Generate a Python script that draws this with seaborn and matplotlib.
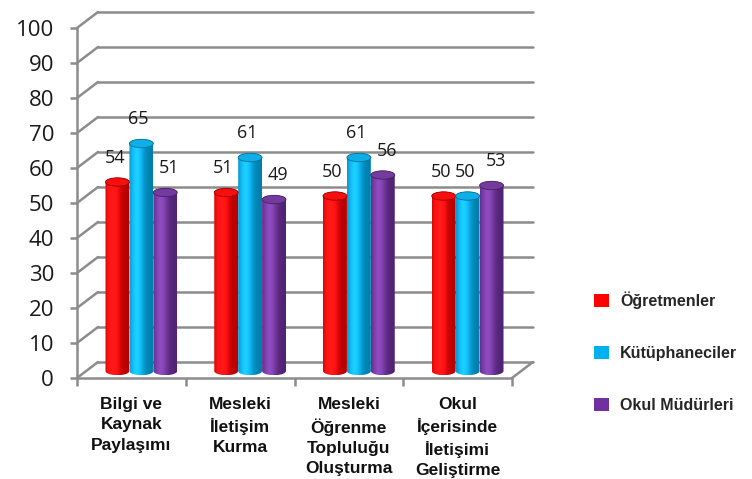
import numpy as np
import pandas as pd
import matplotlib
matplotlib.use("Agg")
import matplotlib.pyplot as plt
import matplotlib.transforms as mtransforms
from matplotlib.patches import Patch, PathPatch, Ellipse
from matplotlib.path import Path
from matplotlib.colors import to_rgb
import seaborn as sns

# --- data ---
categories = ["Bilgi ve\nKaynak\nPaylaşımı",
              "Mesleki\nİletişim\nKurma",
              "Mesleki\nÖğrenme\nTopluluğu\nOluşturma",
              "Okul\nİçerisinde\nİletişimi\nGeliştirme"]
groups = ["Öğretmenler", "Kütüphaneciler", "Okul Müdürleri"]
ogretmenler = [54, 51, 50, 50]
kutuphaneciler = [65, 61, 61, 50]
mudurler = [51, 49, 56, 53]
y_ticks = list(range(0, 101, 10))
colors = ["#ff0000", "#00b0f0", "#7030a0"]

rows = []
for vals, g in zip([ogretmenler, kutuphaneciler, mudurler], groups):
    for c, v in zip(categories, vals):
        rows.append({"kategori": c, "grup": g, "deger": v})
df = pd.DataFrame(rows)

sns.set_style("white")
plt.rcParams["font.family"] = ["Open Sans", "DejaVu Sans"]

fig = plt.figure(figsize=(7.52, 4.79), dpi=100)
ax = fig.add_axes([77 / 752, 1 - 378 / 479, 435 / 752, 350 / 479])

sns.barplot(data=df, x="kategori", y="deger", hue="grup", palette=colors,
            width=0.66, saturation=1, ax=ax, legend=False, zorder=3)

grid_col = "#8c8c8c"
back = mtransforms.offset_copy(ax.transData, fig=fig, x=21, y=16, units="dots")
mid = mtransforms.offset_copy(ax.transData, fig=fig, x=10, y=7, units="dots")

# back wall gridlines + diagonals to the front
for v in y_ticks:
    ax.plot([-0.5, 3.5], [v, v], color=grid_col, lw=1.8, transform=back,
            zorder=0, clip_on=False)
    ax.annotate("", xy=(-0.5, v), xycoords=back, xytext=(-0.5, v),
                textcoords="data",
                arrowprops=dict(arrowstyle="-", color=grid_col, lw=1.8,
                                shrinkA=0, shrinkB=0))
ax.annotate("", xy=(3.5, 0), xycoords=back, xytext=(3.5, 0), textcoords="data",
            arrowprops=dict(arrowstyle="-", color=grid_col, lw=1.8,
                            shrinkA=0, shrinkB=0))
ax.plot([-0.5, 3.5], [0, 0], color=grid_col, lw=1.8, clip_on=False, zorder=1)
ax.plot([-0.5, -0.5], [0, 100], color=grid_col, lw=1.8, clip_on=False, zorder=1)

# cylinder look: shaded body with rounded ends, shifted to mid depth
cap = 1.2
t = np.linspace(0, 1, 60)
glow = np.exp(-((t - 0.32) / 0.3) ** 2)
for cont, col in zip(ax.containers, colors):
    base = np.array(to_rgb(col))
    shade = base[None, :] * (0.72 + 0.32 * glow[:, None]) + 0.1 * glow[:, None]
    img = np.clip(shade, 0, 1)[None, :, :]
    for p in cont.patches:
        p.set_transform(mid)
        p.set_edgecolor("none")
        p.set_alpha(0)
        x0, w, h = p.get_x(), p.get_width(), p.get_height()
        xc = x0 + w / 2
        th_b = np.linspace(np.pi, 2 * np.pi, 30)
        th_t = np.linspace(0, np.pi, 30)
        xs = np.concatenate([xc + w / 2 * np.cos(th_b), xc + w / 2 * np.cos(th_t)])
        ys = np.concatenate([cap * np.sin(th_b), h + cap * np.sin(th_t)])
        body = PathPatch(Path(np.column_stack([xs, ys])), transform=mid,
                         facecolor="none", edgecolor="none")
        ax.add_patch(body)
        im = ax.imshow(img, extent=(x0, x0 + w, -cap, h + cap), transform=mid,
                       aspect="auto", interpolation="bilinear", zorder=3)
        im.set_clip_path(body)
        ax.add_patch(Ellipse((xc, h), w, 2 * cap, transform=mid, zorder=3.2,
                             facecolor=np.clip(base * 0.9 + 0.06, 0, 1),
                             edgecolor=base * 0.65, lw=0.6))

ax.set_xlim(-0.5, 3.5)
ax.set_ylim(0, 100)
for s in ax.spines.values():
    s.set_visible(False)

label_dx = [-2, -2, 3]
for cont, dx in zip(ax.containers, label_dx):
    for ann in ax.bar_label(cont, padding=11, fontsize=13, color="#1a1a1a"):
        ann.xycoords = mid
        ann.xyann = (dx, 11)

ax.set_yticks(y_ticks)
ax.tick_params(axis="y", length=5, width=1.8, color=grid_col, pad=11.5,
               labelsize=16, labelcolor="#1a1a1a", left=True)
ax.set_xticks(range(len(categories)))
ax.set_xticklabels(categories, fontsize=12.5, fontweight="bold",
                   family=["Liberation Sans", "DejaVu Sans"],
                   linespacing=1.42, color="#111111")
ax.set_xticks([-0.5, 0.5, 1.5, 2.5, 3.5], minor=True)
ax.tick_params(axis="x", which="major", length=0, pad=14)
ax.tick_params(axis="x", which="minor", length=6, width=1.8, color=grid_col,
               bottom=True)
ax.set_xlabel("")
ax.set_ylabel("")

handles = [Patch(facecolor=c, edgecolor="none") for c in colors]
fig.legend(handles, groups, loc="upper left", bbox_to_anchor=(580 / 752, 1 - 277 / 479),
           frameon=False, labelspacing=2.3, handlelength=0.9, handleheight=0.9,
           handletextpad=0.7,
           prop={"family": ["Liberation Sans", "DejaVu Sans"], "weight": "bold", "size": 11.5})

fig.savefig("out.png", dpi=100)
